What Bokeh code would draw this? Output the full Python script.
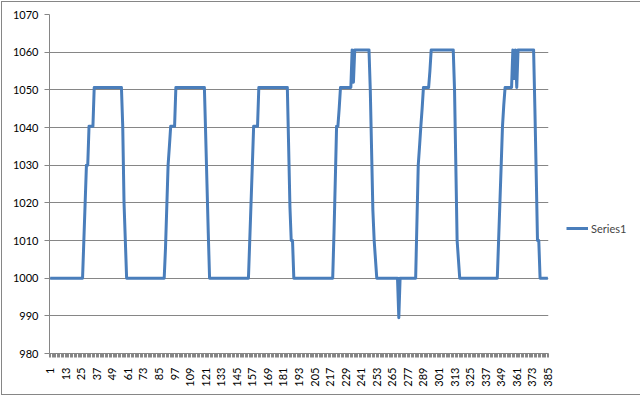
import numpy as np
from math import pi
from bokeh.plotting import figure
from bokeh.models import (FixedTicker, Range1d, Legend, LegendItem, ColumnDataSource)
from bokeh.embed import file_html
from bokeh.resources import INLINE

# ---- data (run-length encoded: level, count) ----
levels = [1000, 1010, 1020, 1030, 1040.3, 1050.6, 1040.3, 1020, 1010, 1000,
          1008, 1019, 1030, 1035, 1040.3, 1050.6, 1038, 1025, 1012, 1000,
          1010, 1020, 1030, 1040.3, 1050.6, 1035, 1019, 1010, 1000,
          1012, 1026, 1040.3, 1045, 1050.6, 1060.6, 1052, 1060.6, 1050, 1034, 1018, 1010, 1005, 1000, 989.5, 1000,
          1015, 1030, 1035, 1040.3, 1045, 1050.6, 1055, 1060.6, 1050, 1030, 1010, 1005, 1000,
          1010, 1020, 1030, 1040.3, 1046, 1050.6, 1060.6, 1053, 1060.6, 1050.6, 1060.6, 1045, 1028, 1010, 1000]
repeats = [26, 1, 1, 2, 4, 22, 1, 1, 1, 30,
           1, 1, 1, 1, 4, 23, 1, 1, 1, 31,
           1, 1, 1, 4, 23, 1, 1, 2, 31,
           1, 1, 2, 1, 9, 1, 1, 12, 1, 1, 1, 1, 1, 17, 1, 13,
           1, 1, 1, 1, 1, 5, 1, 18, 1, 1, 1, 1, 30,
           1, 1, 1, 1, 1, 6, 1, 1, 1, 1, 13, 1, 1, 2, 7]
series1 = np.repeat(np.array(levels, dtype=float), repeats)
categories = list(range(1, len(series1) + 1))
x_label_ticks = list(range(1, 386, 12))
y_ticks = list(range(980, 1071, 10))
series_name = "Series1"

FONT = "Lato"
GREY = "#868686"

src = ColumnDataSource(dict(x=categories, y=series1))

p = figure(frame_width=499, frame_height=339, output_backend="svg", toolbar_location=None,
           x_range=Range1d(0.5, len(categories) + 0.5), y_range=Range1d(980, 1070),
           min_border_left=47, min_border_right=89, min_border_top=12, min_border_bottom=41)
p.styles = {"border": "1px solid #868686", "margin": "1px 0 0 1px",
            "box-sizing": "content-box"}
p.background_fill_color = "white"
p.border_fill_color = "white"
p.outline_line_color = None

r = p.line("x", "y", source=src, line_color="#4A7EBB", line_width=3, line_join="round")

# y axis
p.yaxis.ticker = FixedTicker(ticks=y_ticks)
p.yaxis.axis_line_color = GREY
p.yaxis.major_tick_line_color = GREY
p.yaxis.major_tick_out = 5
p.yaxis.major_tick_in = 0
p.yaxis.minor_tick_line_color = None
p.yaxis.major_label_standoff = 6
p.yaxis.major_label_text_font = FONT
p.yaxis.major_label_text_font_size = "11px"
p.yaxis.major_label_text_color = "black"

# x axis
p.xaxis.ticker = FixedTicker(ticks=x_label_ticks,
                             minor_ticks=[c - 0.5 for c in categories] + [categories[-1] + 0.5])
p.xaxis.major_label_overrides = {t: str(t) for t in x_label_ticks}
p.xaxis.axis_line_color = GREY
p.xaxis.major_tick_line_color = None
p.xaxis.major_tick_out = 0
p.xaxis.major_tick_in = 0
p.xaxis.minor_tick_line_color = GREY
p.xaxis.minor_tick_out = 4
p.xaxis.minor_tick_in = 0
p.xaxis.major_label_orientation = pi / 2
p.xaxis.major_label_standoff = 10
p.xaxis.major_label_text_font = FONT
p.xaxis.major_label_text_font_size = "11px"
p.xaxis.major_label_text_color = "black"

# grid
p.xgrid.grid_line_color = None
p.ygrid.ticker = FixedTicker(ticks=y_ticks)
p.ygrid.grid_line_color = GREY
p.ygrid.grid_line_width = 1

# legend (in the right-hand panel)
legend = Legend(items=[LegendItem(label=series_name, renderers=[r])],
                location=(18, 115), glyph_width=22, glyph_height=20, label_height=20,
                padding=0, margin=0, spacing=0, border_line_color=None,
                background_fill_alpha=0, label_standoff=3,
                label_text_font=FONT, label_text_font_size="11px")
p.add_layout(legend, "right")

open("out.html", "w").write(file_html(p, INLINE))
